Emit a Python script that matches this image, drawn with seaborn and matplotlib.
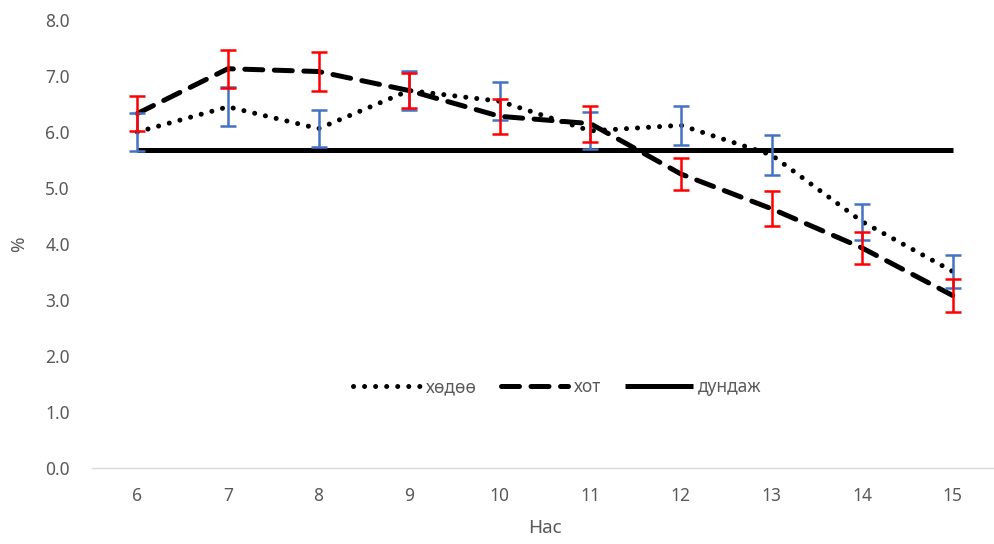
import numpy as np
import pandas as pd
import matplotlib
matplotlib.use("Agg")
import matplotlib.pyplot as plt
import seaborn as sns
from matplotlib.lines import Line2D

ages = [6, 7, 8, 9, 10, 11, 12, 13, 14, 15]
rural = [6.0, 6.45, 6.06, 6.74, 6.55, 6.02, 6.12, 5.59, 4.40, 3.51]
rural_err = [0.34, 0.35, 0.33, 0.35, 0.34, 0.33, 0.35, 0.36, 0.32, 0.30]
urban = [6.33, 7.13, 7.08, 6.74, 6.28, 6.15, 5.25, 4.63, 3.93, 3.08]
urban_err = [0.31, 0.34, 0.34, 0.32, 0.31, 0.32, 0.29, 0.31, 0.29, 0.30]
average = [5.67] * 10
labels = ["хөдөө", "хот", "дундаж"]
y_ticks = [0, 1, 2, 3, 4, 5, 6, 7, 8]

sns.set_theme(style="white")
plt.rcParams['font.family'] = ['Noto Sans', 'DejaVu Sans']

df = pd.DataFrame({"Нас": ages, labels[0]: rural, labels[1]: urban, labels[2]: average})

fig = plt.figure(figsize=(9.94, 5.44), dpi=100)
ax = fig.add_axes([92 / 994, 1 - 468 / 544, (998 - 92) / 994, (468 - 20) / 544])

lw = 3.6
sns.lineplot(data=df, x="Нас", y=labels[0], ax=ax, color="black", lw=lw,
             linestyle=(0, (0.01, 2.2)), dash_capstyle="round", zorder=3)
sns.lineplot(data=df, x="Нас", y=labels[1], ax=ax, color="black", lw=lw,
             linestyle=(0, (3.6, 2.3)), dash_capstyle="round", zorder=3)
sns.lineplot(data=df, x="Нас", y=labels[2], ax=ax, color="black", lw=lw,
             solid_capstyle="butt", zorder=3)

ax.errorbar(ages, rural, yerr=rural_err, fmt="none", ecolor="#4472C4",
            elinewidth=1.8, capsize=5.5, capthick=1.8, zorder=4)
ax.errorbar(ages, urban, yerr=urban_err, fmt="none", ecolor="#FF0000",
            elinewidth=1.8, capsize=5.5, capthick=1.8, zorder=5)

ax.set_xlim(5.5, 15.5)
ax.set_ylim(0, 8)
ax.set_xticks(ages)
ax.set_xticklabels([str(a) for a in ages])
ax.set_yticks(y_ticks)
ax.set_yticklabels([f"{v:.1f}" for v in y_ticks])
ax.tick_params(axis="both", labelsize=12.5, colors="#595959", length=0)
ax.tick_params(axis="x", pad=14)
ax.tick_params(axis="y", pad=16)
ax.set_xlabel("Нас", fontsize=13.5, color="#595959", labelpad=10)
ax.set_ylabel("%", fontsize=13.5, color="#595959", labelpad=12)

for s in ["top", "right", "left"]:
    ax.spines[s].set_visible(False)
ax.spines["bottom"].set_color("#D9D9D9")
ax.spines["bottom"].set_linewidth(1)
ax.grid(False)

handles = [
    Line2D([], [], color="black", lw=lw, linestyle=(0, (0.01, 2.2)), dash_capstyle="round"),
    Line2D([], [], color="black", lw=lw, linestyle=(0, (3.6, 2.3)), dash_capstyle="round"),
    Line2D([], [], color="black", lw=lw, solid_capstyle="butt"),
]
leg = ax.legend(handles, labels, loc="center", bbox_to_anchor=((557 - 92) / 906, (468 - 387) / 448),
                ncol=3, frameon=False, fontsize=12.5, handlelength=3.9, columnspacing=1.4,
                handletextpad=0.3)
for t in leg.get_texts():
    t.set_color("#595959")

fig.savefig("out.png", dpi=100)
